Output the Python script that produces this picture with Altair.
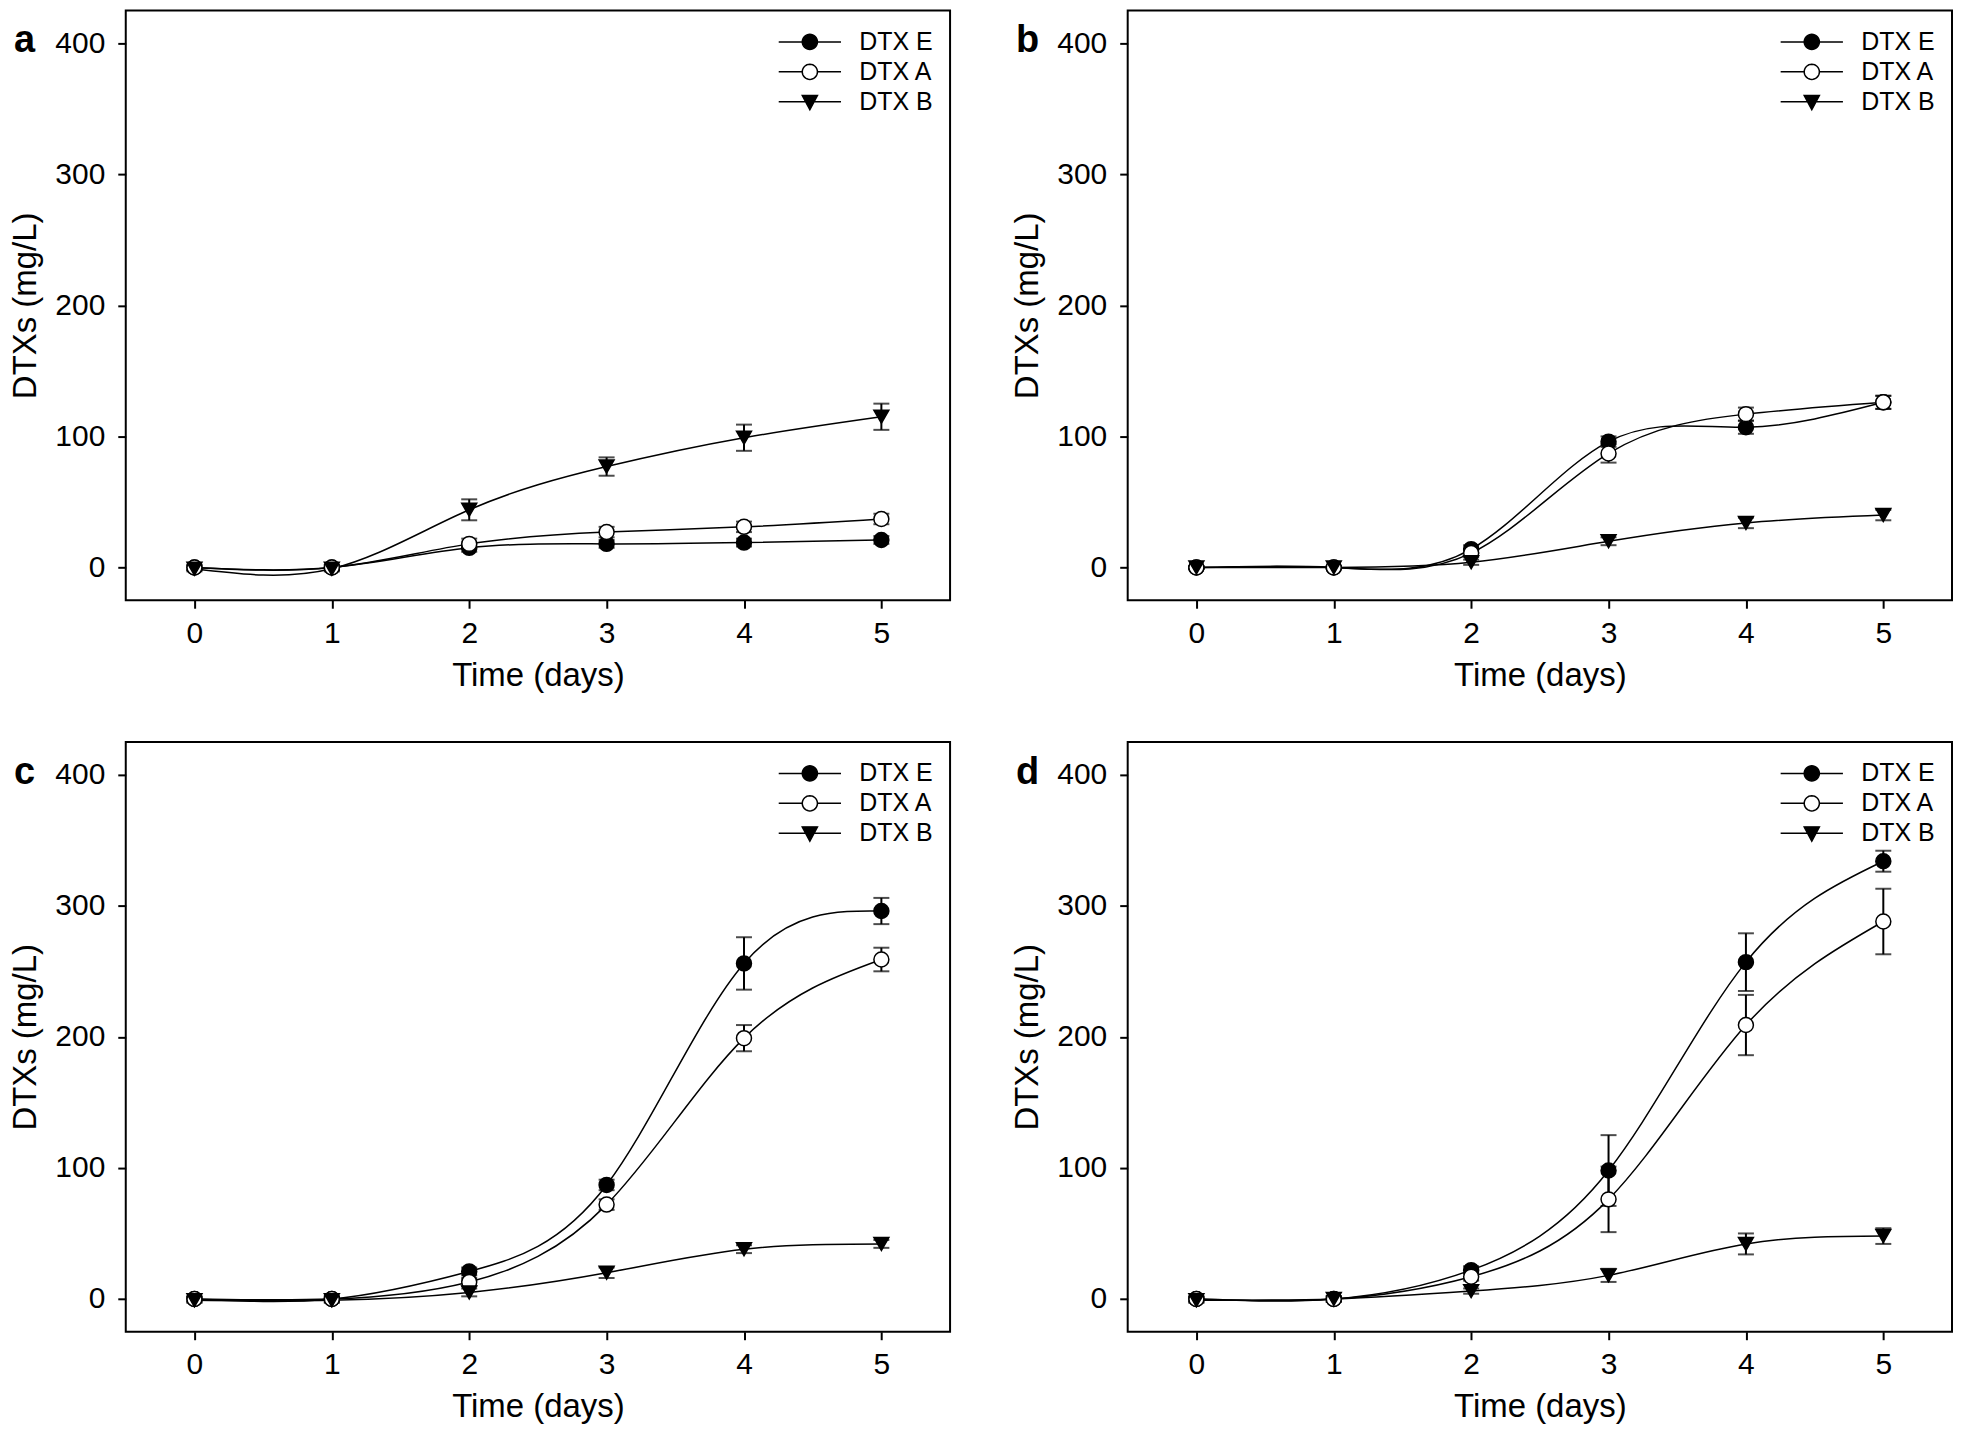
import math
import altair as alt
import pandas as pd

# ---------------- data ----------------
DAYS = [0, 1, 2, 3, 4, 5]
SERIES = ["DTX E", "DTX A", "DTX B"]
PANELS = ["a", "b", "c", "d"]

# panel a
E_A_VAL = [0, 0, 15, 18, 19, 21]
E_A_ERR = [2, 2, 3, 3, 3, 3]
A_A_VAL = [0, 0, 18, 27, 31, 37]
A_A_ERR = [2, 2, 4, 4, 4, 4]
B_A_VAL = [-1, -1, 44, 77, 99, 115]
B_A_ERR = [2, 2, 8, 7, 10, 10]

# panel b
E_B_VAL = [0, 0, 14, 96, 107, 126]
E_B_ERR = [1, 1, 3, 4, 5, 5]
A_B_VAL = [0, 0, 11, 87, 117, 126]
A_B_ERR = [1, 1, 3, 7, 5, 5]
B_B_VAL = [0, 0, 4, 20, 34, 40]
B_B_ERR = [1, 1, 2, 3, 4, 4]

# panel c
E_C_VAL = [0, 0, 21, 87, 256, 296]
E_C_ERR = [2, 2, 3, 4, 20, 10]
A_C_VAL = [0, 0, 13, 72, 199, 259]
A_C_ERR = [2, 2, 3, 4, 10, 9]
B_C_VAL = [-1, -1, 5, 20, 38, 42]
B_C_ERR = [2, 2, 3, 4, 3, 3]

# panel d
E_D_VAL = [0, 0, 22, 98, 257, 334]
E_D_ERR = [2, 2, 3, 27, 22, 8]
A_D_VAL = [0, 0, 17, 76, 209, 288]
A_D_ERR = [2, 2, 3, 25, 23, 25]
B_D_VAL = [-1, 0, 6, 18, 42, 48]
B_D_ERR = [2, 2, 2, 5, 8, 6]

Y_TICKS = [0, 100, 200, 300, 400]
X_TICKS = [0, 1, 2, 3, 4, 5]

PANEL_DATA = {
    "a": {"DTX E": (E_A_VAL, E_A_ERR), "DTX A": (A_A_VAL, A_A_ERR), "DTX B": (B_A_VAL, B_A_ERR)},
    "b": {"DTX E": (E_B_VAL, E_B_ERR), "DTX A": (A_B_VAL, A_B_ERR), "DTX B": (B_B_VAL, B_B_ERR)},
    "c": {"DTX E": (E_C_VAL, E_C_ERR), "DTX A": (A_C_VAL, A_C_ERR), "DTX B": (B_C_VAL, B_C_ERR)},
    "d": {"DTX E": (E_D_VAL, E_D_ERR), "DTX A": (A_D_VAL, A_D_ERR), "DTX B": (B_D_VAL, B_D_ERR)},
}

# ---------------- styling ----------------
FONT = "Liberation Sans"
W, H = 826, 591
HSPACE, VSPACE = 178, 142


def circle_path(r, n=32):
    pts = [(r * math.cos(2 * math.pi * k / n), r * math.sin(2 * math.pi * k / n)) for k in range(n)]
    return "M" + "L".join(f"{x:.3f},{y:.3f}" for x, y in pts) + "Z"


# legend symbols: marker with a line segment through it
LEG_CIRCLE = "M-3.9,0L-0.95,0M0.95,0L3.9,0" + circle_path(0.95)
LEG_TRI = "M-3.9,0L3.9,0M-0.95,-0.8L0.95,-0.8L0,1Z"


def panel_df(p):
    rows = []
    for s in SERIES:
        vals, errs = PANEL_DATA[p][s]
        for d, v, e in zip(DAYS, vals, errs):
            rows.append({"day": d, "val": v, "lo": v - e, "hi": v + e, "series": s})
    return pd.DataFrame(rows)


def legend_params():
    return dict(
        title=None, orient="none", legendX=W - 153, legendY=19, padding=0,
        labelFont=FONT, labelFontSize=25, labelColor="black", labelOffset=37,
        symbolSize=256, symbolStrokeColor="black", symbolStrokeWidth=1.5,
        symbolOpacity=1, rowPadding=4,
    )


def make_panel(p):
    df = panel_df(p)
    base = alt.Chart(df)
    x = alt.X(
        "day:Q",
        scale=alt.Scale(domain=[-0.5, 5.5], nice=False, zero=False),
        axis=alt.Axis(values=X_TICKS, format="d", title="Time (days)",
                      labelPadding=10, titlePadding=11),
    )
    y = alt.Y(
        "val:Q",
        scale=alt.Scale(domain=[-25, 425], nice=False, zero=False),
        axis=alt.Axis(values=Y_TICKS, format="d", title="DTXs (mg/L)",
                      labelPadding=13, titlePadding=12),
    )
    lines = base.mark_line(interpolate="natural", color="black", strokeWidth=1.5).encode(
        x=x, y=y, detail="series:N"
    )
    bars = base.mark_rule(color="black", strokeWidth=2).encode(x=x, y=alt.Y("lo:Q"), y2="hi:Q")
    cap_hi = base.mark_tick(orient="horizontal", color="black", size=16, thickness=2).encode(x=x, y=alt.Y("hi:Q"))
    cap_lo = base.mark_tick(orient="horizontal", color="black", size=16, thickness=2).encode(x=x, y=alt.Y("lo:Q"))
    points = base.mark_point(filled=True, stroke="black", strokeWidth=1.5, size=225, opacity=1).encode(
        x=x,
        y=y,
        shape=alt.Shape("series:N", scale=alt.Scale(domain=SERIES, range=["circle", "circle", "triangle-down"]), legend=None),
        fill=alt.Fill("series:N", scale=alt.Scale(domain=SERIES, range=["black", "white", "black"]), legend=None),
    )
    legend_layer = base.mark_point(filled=True, strokeWidth=1.5, opacity=0).encode(
        x=x,
        y=y,
        shape=alt.Shape(
            "series:N",
            scale=alt.Scale(domain=SERIES, range=[LEG_CIRCLE, LEG_CIRCLE, LEG_TRI]),
            legend=alt.Legend(**legend_params()),
        ),
        fill=alt.Fill(
            "series:N",
            scale=alt.Scale(domain=SERIES, range=["black", "white", "black"]),
            legend=alt.Legend(**legend_params()),
        ),
        stroke=alt.Stroke(
            "series:N",
            scale=alt.Scale(domain=SERIES, range=["black", "black", "black"]),
            legend=alt.Legend(**legend_params()),
        ),
    )
    letter = alt.Chart(pd.DataFrame({"lab": [p]})).mark_text(
        font=FONT, fontSize=38, fontWeight="bold", color="black", align="left", baseline="alphabetic"
    ).encode(text="lab:N", x=alt.value(-112), y=alt.value(42))

    return (
        alt.layer(lines, bars, cap_hi, cap_lo, points, legend_layer, letter)
        .resolve_scale(shape="independent", fill="independent", stroke="independent")
        .properties(width=W, height=H)
    )


chart = (
    alt.concat(
        *[make_panel(p) for p in PANELS],
        columns=2,
        spacing={"row": VSPACE, "column": HSPACE},
        bounds="flush",
    )
    .properties(padding=0)
    .configure(font=FONT)
    .configure_view(stroke="black", strokeWidth=2)
    .configure_axis(
        grid=False, domain=False, tickColor="black", tickSize=8, tickWidth=2,
        labelFont=FONT, labelFontSize=30, labelColor="black",
        titleFont=FONT, titleFontSize=33, titleFontWeight="normal", titleColor="black",
    )
)

chart.save("out.html", embed_options={"renderer": "svg", "actions": False})
